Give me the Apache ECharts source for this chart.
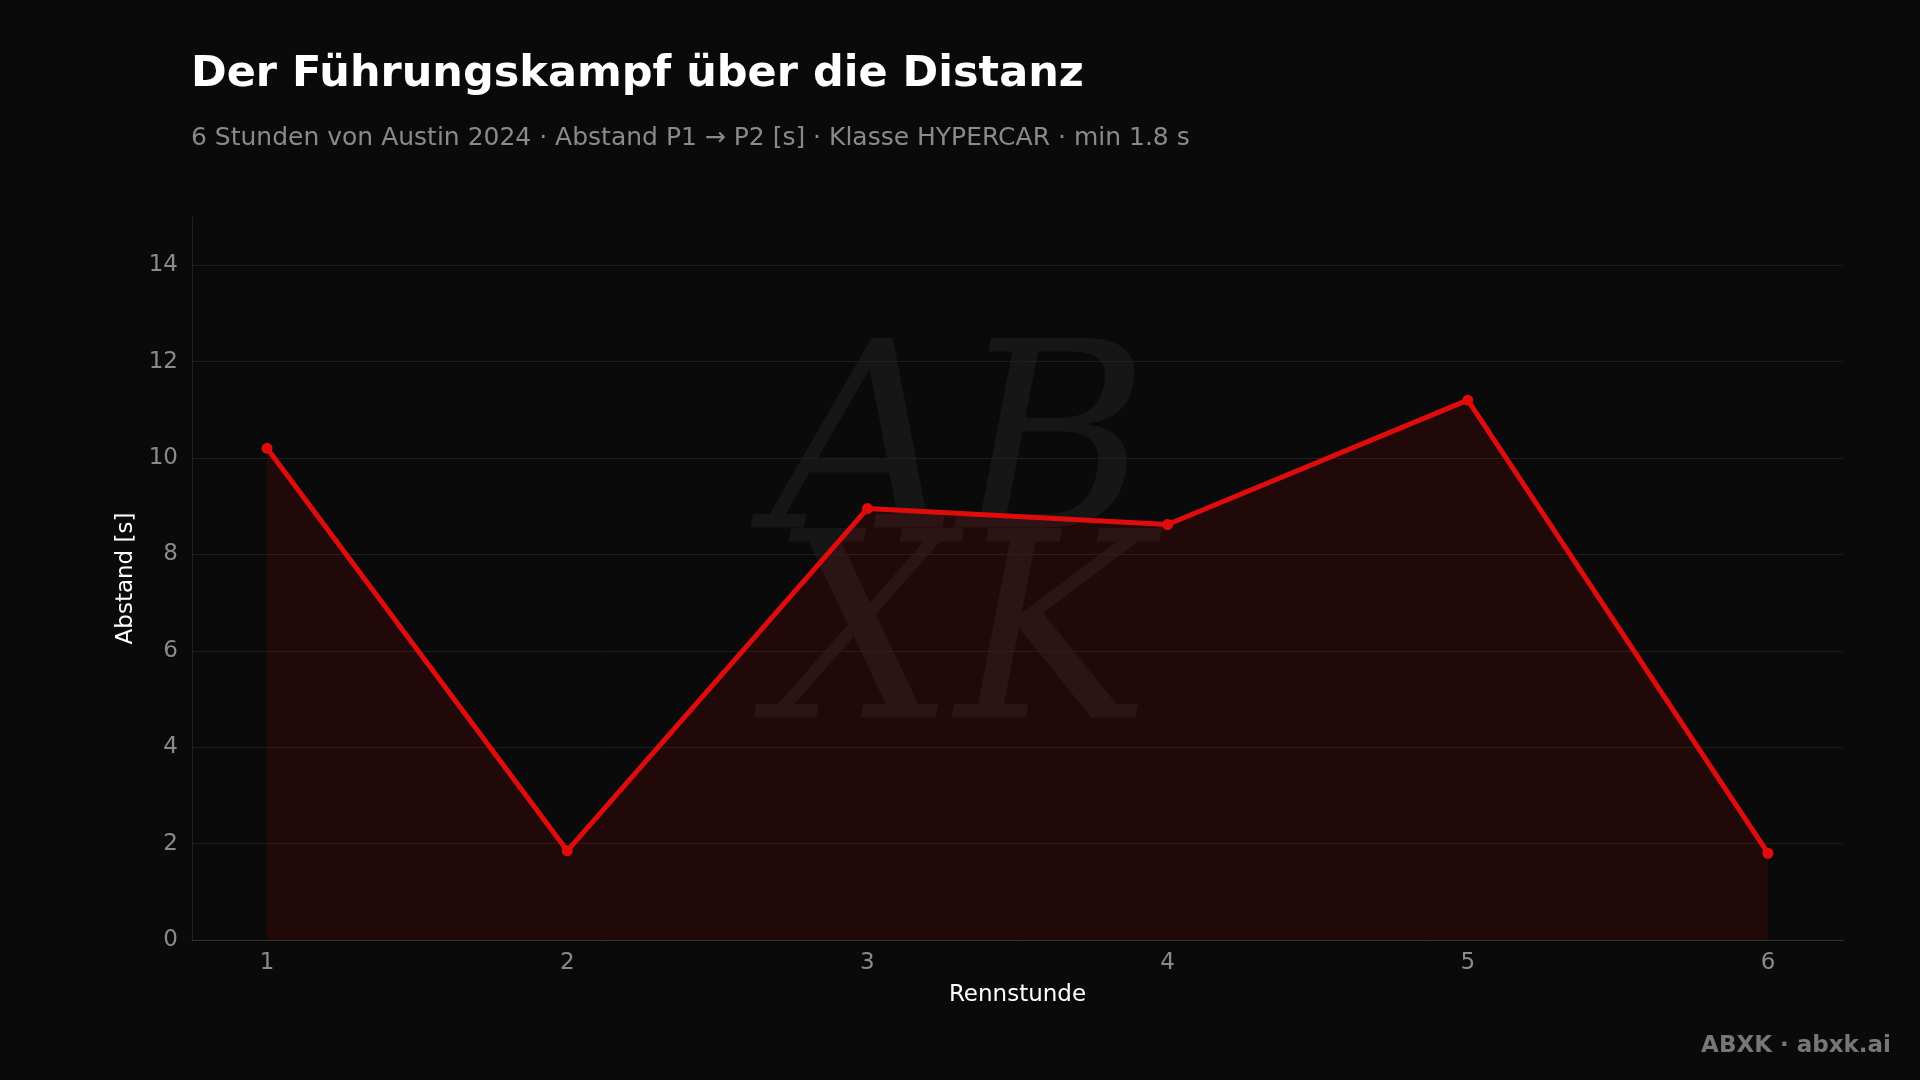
<!DOCTYPE html>
<html>
<head>
<meta charset="utf-8">
<style>html,body{margin:0;background:#0a0a0a;}#main{width:1920px;height:1080px;}</style>
<script src="https://cdn.jsdelivr.net/npm/echarts@6/dist/echarts.min.js"></script>
</head>
<body>
<div id="main"></div>
<script>
// Abstand P1 -> P2 je Rennstunde
const hours = [1, 2, 3, 4, 5, 6];
const gaps = [10.2, 1.85, 8.95, 8.62, 11.2, 1.8];
const yTicks = [0, 2, 4, 6, 8, 10, 12, 14];

const font = 'DejaVu Sans';
const chart = echarts.init(document.getElementById('main'));
chart.setOption({
  backgroundColor: '#0a0a0a',
  textStyle: { fontFamily: font },
  title: {
    text: 'Der Führungskampf über die Distanz',
    subtext: '6 Stunden von Austin 2024 · Abstand P1 → P2 [s] · Klasse HYPERCAR · min 1.8 s',
    left: 186, top: 48,
    itemGap: 30,
    textStyle: { color: '#ffffff', fontSize: 43, fontWeight: 'bold', fontFamily: font },
    subtextStyle: { color: '#8a8a8a', fontSize: 25, fontFamily: font },
  },
  graphic: [
    {
      type: 'text', left: 'center', top: 330, z: 0, silent: true,
      style: { text: 'AB\nXK', fill: 'rgba(255,255,255,0.05)', font: 'italic 260px "DejaVu Serif"', align: 'center', lineHeight: 190 },
    },
    {
      type: 'text', right: 29, bottom: 22,
      style: { text: 'ABXK · abxk.ai', fill: '#777777', font: 'bold 23px "DejaVu Sans"' },
    },
  ],
  grid: { left: 192, right: 77, top: 217, bottom: 140 },
  xAxis: {
    type: 'value', min: 0.75, max: 6.25, interval: 0.25,
    name: 'Rennstunde', nameLocation: 'middle', nameGap: 44,
    nameTextStyle: { color: '#ffffff', fontSize: 23 },
    axisLine: { lineStyle: { color: '#333333' } },
    axisTick: { show: false },
    splitLine: { show: false },
    axisLabel: {
      color: '#8a8a8a', fontSize: 23, margin: 12,
      showMinLabel: false, showMaxLabel: false,
      formatter: v => (hours.includes(v) ? String(v) : ''),
    },
  },
  yAxis: {
    type: 'value', min: 0, max: 15, interval: 2,
    name: 'Abstand [s]', nameLocation: 'middle', nameGap: 52, nameRotate: 90,
    nameTextStyle: { color: '#ffffff', fontSize: 23 },
    axisLine: { show: true, lineStyle: { color: '#222222' } },
    axisTick: { show: false },
    splitLine: { showMaxLine: false, lineStyle: { color: '#1e1e1e' } },
    axisLabel: {
      color: '#8a8a8a', fontSize: 23, margin: 14,
      formatter: v => (yTicks.includes(v) ? String(v) : ''),
    },
  },
  series: [{
    type: 'line',
    data: hours.map((h, i) => [h, gaps[i]]),
    symbol: 'circle', symbolSize: 11,
    lineStyle: { color: '#e00c0c', width: 5 },
    itemStyle: { color: '#e00c0c' },
    areaStyle: { color: 'rgba(224,12,12,0.17)' },
    z: 3,
  }],
});
</script>
</body>
</html>
